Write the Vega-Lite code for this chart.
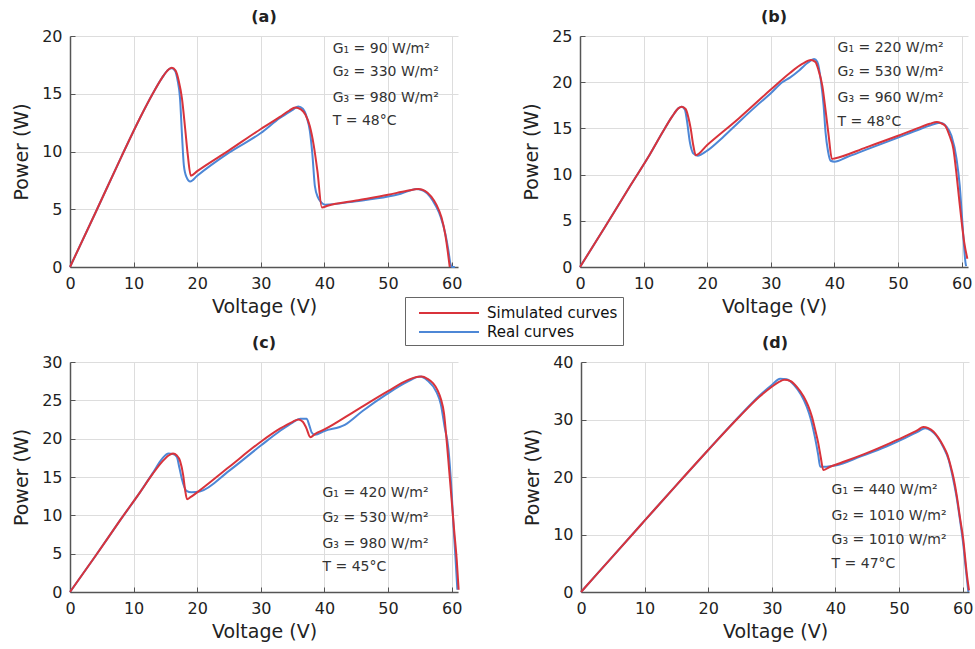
{
  "$schema": "https://vega.github.io/schema/vega-lite/v6.json",
  "background": "white",
  "padding": {"left": 12, "top": 9, "right": 5, "bottom": 5},
  "config": {
    "font": "DejaVu Sans",
    "view": {"stroke": null},
    "title": {"fontSize": 16, "fontWeight": "bold", "color": "#222", "offset": 3, "font": "DejaVu Sans"},
    "axis": {
      "labelFontSize": 16, "labelColor": "#222", "titleFontSize": 19, "titleFontWeight": "normal", "titleColor": "#222",
      "labelFont": "DejaVu Sans", "titleFont": "DejaVu Sans", "labelOverlap": false,
      "domainColor": "#555", "domainWidth": 1.5, "gridColor": "#dddddd", "gridWidth": 1,
      "tickColor": "#555", "tickSize": -5, "labelPadding": 13, "labelFlush": false
    },
    "axisX": {"titlePadding": 6},
    "axisY": {"titlePadding": 10},
    "legend": {
      "orient": "none", "legendX": 335, "legendY": 261, "title": null,
      "symbolType": "M-0.2,0H5.8", "symbolSize": 400, "symbolStrokeWidth": 2,
      "labelFontSize": 15, "labelFont": "DejaVu Sans", "labelColor": "#111", "strokeColor": "#666", "fillColor": "white",
      "padding": 5, "rowPadding": 0, "labelOffset": 55
    },
    "text": {"font": "DejaVu Sans"}
  },
  "datasets": {
    "curves": [
      {"panel":"a","series":"Simulated curves","v":0,"p":0},{"panel":"a","series":"Simulated curves","v":4,"p":4.7},{"panel":"a","series":"Simulated curves","v":8,"p":9.45},{"panel":"a","series":"Simulated curves","v":11,"p":12.9},{"panel":"a","series":"Simulated curves","v":13,"p":15.0},{"panel":"a","series":"Simulated curves","v":14.5,"p":16.4},{"panel":"a","series":"Simulated curves","v":15.5,"p":17.1},{"panel":"a","series":"Simulated curves","v":16,"p":17.25},{"panel":"a","series":"Simulated curves","v":16.6,"p":17.0},{"panel":"a","series":"Simulated curves","v":17.1,"p":16.1},{"panel":"a","series":"Simulated curves","v":17.6,"p":14.6},{"panel":"a","series":"Simulated curves","v":18.1,"p":12.0},{"panel":"a","series":"Simulated curves","v":18.5,"p":9.8},{"panel":"a","series":"Simulated curves","v":19.0,"p":7.9},{"panel":"a","series":"Simulated curves","v":20,"p":8.3},{"panel":"a","series":"Simulated curves","v":25,"p":10.1},{"panel":"a","series":"Simulated curves","v":30,"p":11.95},{"panel":"a","series":"Simulated curves","v":33,"p":13.0},{"panel":"a","series":"Simulated curves","v":34.5,"p":13.55},{"panel":"a","series":"Simulated curves","v":35.4,"p":13.8},{"panel":"a","series":"Simulated curves","v":36.3,"p":13.65},{"panel":"a","series":"Simulated curves","v":37.0,"p":13.2},{"panel":"a","series":"Simulated curves","v":37.7,"p":12.2},{"panel":"a","series":"Simulated curves","v":38.3,"p":10.6},{"panel":"a","series":"Simulated curves","v":38.9,"p":8.3},{"panel":"a","series":"Simulated curves","v":39.6,"p":5.15},{"panel":"a","series":"Simulated curves","v":40.5,"p":5.3},{"panel":"a","series":"Simulated curves","v":45,"p":5.75},{"panel":"a","series":"Simulated curves","v":50,"p":6.25},{"panel":"a","series":"Simulated curves","v":53,"p":6.6},{"panel":"a","series":"Simulated curves","v":54.8,"p":6.75},{"panel":"a","series":"Simulated curves","v":55.8,"p":6.6},{"panel":"a","series":"Simulated curves","v":56.8,"p":6.1},{"panel":"a","series":"Simulated curves","v":57.6,"p":5.4},{"panel":"a","series":"Simulated curves","v":58.4,"p":4.3},{"panel":"a","series":"Simulated curves","v":59.0,"p":2.8},{"panel":"a","series":"Simulated curves","v":59.4,"p":1.3},{"panel":"a","series":"Simulated curves","v":59.7,"p":0},
      {"panel":"a","series":"Real curves","v":0,"p":0},{"panel":"a","series":"Real curves","v":4,"p":4.7},{"panel":"a","series":"Real curves","v":8,"p":9.45},{"panel":"a","series":"Real curves","v":11,"p":12.9},{"panel":"a","series":"Real curves","v":13,"p":15.0},{"panel":"a","series":"Real curves","v":14.5,"p":16.4},{"panel":"a","series":"Real curves","v":15.5,"p":17.1},{"panel":"a","series":"Real curves","v":16,"p":17.2},{"panel":"a","series":"Real curves","v":16.5,"p":17.0},{"panel":"a","series":"Real curves","v":16.9,"p":16.2},{"panel":"a","series":"Real curves","v":17.3,"p":14.6},{"panel":"a","series":"Real curves","v":17.6,"p":11.5},{"panel":"a","series":"Real curves","v":17.9,"p":8.8},{"panel":"a","series":"Real curves","v":18.3,"p":7.8},{"panel":"a","series":"Real curves","v":18.9,"p":7.4},{"panel":"a","series":"Real curves","v":20,"p":7.9},{"panel":"a","series":"Real curves","v":25,"p":9.9},{"panel":"a","series":"Real curves","v":30,"p":11.6},{"panel":"a","series":"Real curves","v":33,"p":12.9},{"panel":"a","series":"Real curves","v":35,"p":13.6},{"panel":"a","series":"Real curves","v":35.9,"p":13.9},{"panel":"a","series":"Real curves","v":36.6,"p":13.7},{"panel":"a","series":"Real curves","v":37.2,"p":13.0},{"panel":"a","series":"Real curves","v":37.7,"p":11.8},{"panel":"a","series":"Real curves","v":38.1,"p":9.8},{"panel":"a","series":"Real curves","v":38.5,"p":7.0},{"panel":"a","series":"Real curves","v":39.0,"p":6.0},{"panel":"a","series":"Real curves","v":39.5,"p":5.6},{"panel":"a","series":"Real curves","v":40.1,"p":5.4},{"panel":"a","series":"Real curves","v":45,"p":5.7},{"panel":"a","series":"Real curves","v":50,"p":6.1},{"panel":"a","series":"Real curves","v":52,"p":6.35},{"panel":"a","series":"Real curves","v":54.5,"p":6.75},{"panel":"a","series":"Real curves","v":55.6,"p":6.6},{"panel":"a","series":"Real curves","v":56.6,"p":6.1},{"panel":"a","series":"Real curves","v":57.5,"p":5.3},{"panel":"a","series":"Real curves","v":58.3,"p":4.3},{"panel":"a","series":"Real curves","v":59.0,"p":2.9},{"panel":"a","series":"Real curves","v":59.5,"p":1.4},{"panel":"a","series":"Real curves","v":59.8,"p":0.3},{"panel":"a","series":"Real curves","v":60.1,"p":0},{"panel":"a","series":"Real curves","v":60.5,"p":0},
      {"panel":"b","series":"Simulated curves","v":0,"p":0},{"panel":"b","series":"Simulated curves","v":4,"p":4.4},{"panel":"b","series":"Simulated curves","v":8,"p":8.9},{"panel":"b","series":"Simulated curves","v":11,"p":12.2},{"panel":"b","series":"Simulated curves","v":13,"p":14.6},{"panel":"b","series":"Simulated curves","v":14.5,"p":16.3},{"panel":"b","series":"Simulated curves","v":15.5,"p":17.2},{"panel":"b","series":"Simulated curves","v":16,"p":17.35},{"panel":"b","series":"Simulated curves","v":16.6,"p":17.1},{"panel":"b","series":"Simulated curves","v":17.0,"p":16.3},{"panel":"b","series":"Simulated curves","v":17.4,"p":15.0},{"panel":"b","series":"Simulated curves","v":17.8,"p":13.2},{"panel":"b","series":"Simulated curves","v":18.2,"p":12.1},{"panel":"b","series":"Simulated curves","v":20,"p":13.2},{"panel":"b","series":"Simulated curves","v":25,"p":16.1},{"panel":"b","series":"Simulated curves","v":30,"p":19.2},{"panel":"b","series":"Simulated curves","v":33,"p":21.0},{"panel":"b","series":"Simulated curves","v":35,"p":22.0},{"panel":"b","series":"Simulated curves","v":36.3,"p":22.4},{"panel":"b","series":"Simulated curves","v":37.0,"p":22.2},{"panel":"b","series":"Simulated curves","v":37.5,"p":21.3},{"panel":"b","series":"Simulated curves","v":38.1,"p":19.6},{"panel":"b","series":"Simulated curves","v":38.6,"p":17.0},{"panel":"b","series":"Simulated curves","v":39.1,"p":14.2},{"panel":"b","series":"Simulated curves","v":39.6,"p":11.7},{"panel":"b","series":"Simulated curves","v":40,"p":11.75},{"panel":"b","series":"Simulated curves","v":45,"p":12.95},{"panel":"b","series":"Simulated curves","v":50,"p":14.2},{"panel":"b","series":"Simulated curves","v":53,"p":15.0},{"panel":"b","series":"Simulated curves","v":55,"p":15.5},{"panel":"b","series":"Simulated curves","v":56.1,"p":15.7},{"panel":"b","series":"Simulated curves","v":56.8,"p":15.55},{"panel":"b","series":"Simulated curves","v":57.4,"p":15.3},{"panel":"b","series":"Simulated curves","v":58.1,"p":14.2},{"panel":"b","series":"Simulated curves","v":58.7,"p":12.8},{"panel":"b","series":"Simulated curves","v":59.2,"p":10.0},{"panel":"b","series":"Simulated curves","v":59.6,"p":7.4},{"panel":"b","series":"Simulated curves","v":60.0,"p":4.9},{"panel":"b","series":"Simulated curves","v":60.4,"p":2.7},{"panel":"b","series":"Simulated curves","v":60.9,"p":0.9},
      {"panel":"b","series":"Real curves","v":0,"p":0},{"panel":"b","series":"Real curves","v":4,"p":4.4},{"panel":"b","series":"Real curves","v":8,"p":8.9},{"panel":"b","series":"Real curves","v":11,"p":12.2},{"panel":"b","series":"Real curves","v":13,"p":14.6},{"panel":"b","series":"Real curves","v":14.5,"p":16.3},{"panel":"b","series":"Real curves","v":15.5,"p":17.2},{"panel":"b","series":"Real curves","v":16,"p":17.35},{"panel":"b","series":"Real curves","v":16.5,"p":17.0},{"panel":"b","series":"Real curves","v":16.8,"p":15.9},{"panel":"b","series":"Real curves","v":17.3,"p":13.4},{"panel":"b","series":"Real curves","v":17.8,"p":12.3},{"panel":"b","series":"Real curves","v":18.5,"p":12.05},{"panel":"b","series":"Real curves","v":20,"p":12.6},{"panel":"b","series":"Real curves","v":22.4,"p":14.0},{"panel":"b","series":"Real curves","v":25,"p":15.7},{"panel":"b","series":"Real curves","v":28,"p":17.6},{"panel":"b","series":"Real curves","v":30,"p":18.8},{"panel":"b","series":"Real curves","v":31.8,"p":20.0},{"panel":"b","series":"Real curves","v":33,"p":20.5},{"panel":"b","series":"Real curves","v":34.5,"p":21.3},{"panel":"b","series":"Real curves","v":35.8,"p":22.1},{"panel":"b","series":"Real curves","v":36.8,"p":22.5},{"panel":"b","series":"Real curves","v":37.3,"p":22.2},{"panel":"b","series":"Real curves","v":37.9,"p":20.0},{"panel":"b","series":"Real curves","v":38.3,"p":17.5},{"panel":"b","series":"Real curves","v":38.6,"p":14.6},{"panel":"b","series":"Real curves","v":39.0,"p":12.5},{"panel":"b","series":"Real curves","v":39.4,"p":11.5},{"panel":"b","series":"Real curves","v":40,"p":11.4},{"panel":"b","series":"Real curves","v":42,"p":11.9},{"panel":"b","series":"Real curves","v":45,"p":12.7},{"panel":"b","series":"Real curves","v":50,"p":14.0},{"panel":"b","series":"Real curves","v":53,"p":14.8},{"panel":"b","series":"Real curves","v":55,"p":15.3},{"panel":"b","series":"Real curves","v":56.6,"p":15.6},{"panel":"b","series":"Real curves","v":57.6,"p":15.2},{"panel":"b","series":"Real curves","v":58.4,"p":14.2},{"panel":"b","series":"Real curves","v":59.2,"p":11.7},{"panel":"b","series":"Real curves","v":59.7,"p":8.8},{"panel":"b","series":"Real curves","v":60.0,"p":6.0},{"panel":"b","series":"Real curves","v":60.3,"p":3.0},{"panel":"b","series":"Real curves","v":60.6,"p":0.5},{"panel":"b","series":"Real curves","v":60.7,"p":0.1},
      {"panel":"c","series":"Simulated curves","v":0,"p":0},{"panel":"c","series":"Simulated curves","v":4,"p":4.7},{"panel":"c","series":"Simulated curves","v":8,"p":9.5},{"panel":"c","series":"Simulated curves","v":11,"p":13.0},{"panel":"c","series":"Simulated curves","v":13,"p":15.4},{"panel":"c","series":"Simulated curves","v":14.5,"p":17.0},{"panel":"c","series":"Simulated curves","v":15.5,"p":17.8},{"panel":"c","series":"Simulated curves","v":16.2,"p":18.05},{"panel":"c","series":"Simulated curves","v":16.8,"p":17.8},{"panel":"c","series":"Simulated curves","v":17.3,"p":17.1},{"panel":"c","series":"Simulated curves","v":17.8,"p":15.2},{"panel":"c","series":"Simulated curves","v":18.1,"p":13.3},{"panel":"c","series":"Simulated curves","v":18.4,"p":12.1},{"panel":"c","series":"Simulated curves","v":19,"p":12.4},{"panel":"c","series":"Simulated curves","v":20,"p":13.0},{"panel":"c","series":"Simulated curves","v":25,"p":16.3},{"panel":"c","series":"Simulated curves","v":30,"p":19.6},{"panel":"c","series":"Simulated curves","v":33,"p":21.3},{"panel":"c","series":"Simulated curves","v":35,"p":22.2},{"panel":"c","series":"Simulated curves","v":35.9,"p":22.5},{"panel":"c","series":"Simulated curves","v":36.6,"p":22.2},{"panel":"c","series":"Simulated curves","v":37.1,"p":21.5},{"panel":"c","series":"Simulated curves","v":37.8,"p":20.2},{"panel":"c","series":"Simulated curves","v":38.5,"p":20.6},{"panel":"c","series":"Simulated curves","v":40,"p":21.2},{"panel":"c","series":"Simulated curves","v":45,"p":23.7},{"panel":"c","series":"Simulated curves","v":50,"p":26.2},{"panel":"c","series":"Simulated curves","v":53,"p":27.6},{"panel":"c","series":"Simulated curves","v":54.5,"p":28.05},{"panel":"c","series":"Simulated curves","v":55.3,"p":28.1},{"panel":"c","series":"Simulated curves","v":56.2,"p":27.8},{"panel":"c","series":"Simulated curves","v":57.1,"p":27.2},{"panel":"c","series":"Simulated curves","v":57.8,"p":26.3},{"panel":"c","series":"Simulated curves","v":58.3,"p":25.2},{"panel":"c","series":"Simulated curves","v":58.8,"p":23.3},{"panel":"c","series":"Simulated curves","v":59.2,"p":19.9},{"panel":"c","series":"Simulated curves","v":59.6,"p":16.0},{"panel":"c","series":"Simulated curves","v":60.0,"p":12.0},{"panel":"c","series":"Simulated curves","v":60.4,"p":8.0},{"panel":"c","series":"Simulated curves","v":60.8,"p":4.2},{"panel":"c","series":"Simulated curves","v":61.1,"p":0.3},
      {"panel":"c","series":"Real curves","v":0,"p":0},{"panel":"c","series":"Real curves","v":4,"p":4.7},{"panel":"c","series":"Real curves","v":8,"p":9.5},{"panel":"c","series":"Real curves","v":11,"p":13.0},{"panel":"c","series":"Real curves","v":13,"p":15.5},{"panel":"c","series":"Real curves","v":14.5,"p":17.4},{"panel":"c","series":"Real curves","v":15.5,"p":18.05},{"panel":"c","series":"Real curves","v":16.2,"p":18.0},{"panel":"c","series":"Real curves","v":16.8,"p":17.6},{"panel":"c","series":"Real curves","v":17.2,"p":16.2},{"panel":"c","series":"Real curves","v":17.6,"p":14.7},{"panel":"c","series":"Real curves","v":18.3,"p":13.2},{"panel":"c","series":"Real curves","v":19.1,"p":13.0},{"panel":"c","series":"Real curves","v":20.4,"p":13.1},{"panel":"c","series":"Real curves","v":25,"p":15.8},{"panel":"c","series":"Real curves","v":30,"p":19.1},{"panel":"c","series":"Real curves","v":33,"p":21.0},{"panel":"c","series":"Real curves","v":35,"p":22.1},{"panel":"c","series":"Real curves","v":36.2,"p":22.6},{"panel":"c","series":"Real curves","v":37.2,"p":22.6},{"panel":"c","series":"Real curves","v":37.6,"p":21.8},{"panel":"c","series":"Real curves","v":38.0,"p":20.8},{"panel":"c","series":"Real curves","v":38.5,"p":20.5},{"panel":"c","series":"Real curves","v":40,"p":21.0},{"panel":"c","series":"Real curves","v":43.2,"p":21.8},{"panel":"c","series":"Real curves","v":46,"p":23.6},{"panel":"c","series":"Real curves","v":49.8,"p":25.8},{"panel":"c","series":"Real curves","v":53,"p":27.4},{"panel":"c","series":"Real curves","v":55.0,"p":28.1},{"panel":"c","series":"Real curves","v":56.2,"p":27.6},{"panel":"c","series":"Real curves","v":57.6,"p":26.1},{"panel":"c","series":"Real curves","v":58.3,"p":24.5},{"panel":"c","series":"Real curves","v":58.9,"p":21.5},{"panel":"c","series":"Real curves","v":59.5,"p":18.6},{"panel":"c","series":"Real curves","v":60.0,"p":13.0},{"panel":"c","series":"Real curves","v":60.3,"p":8.5},{"panel":"c","series":"Real curves","v":60.6,"p":4.5},{"panel":"c","series":"Real curves","v":60.9,"p":0.3},
      {"panel":"d","series":"Simulated curves","v":0,"p":0},{"panel":"d","series":"Simulated curves","v":5,"p":6.2},{"panel":"d","series":"Simulated curves","v":10,"p":12.4},{"panel":"d","series":"Simulated curves","v":15,"p":18.6},{"panel":"d","series":"Simulated curves","v":20,"p":24.7},{"panel":"d","series":"Simulated curves","v":25,"p":30.6},{"panel":"d","series":"Simulated curves","v":28,"p":33.9},{"panel":"d","series":"Simulated curves","v":30,"p":35.7},{"panel":"d","series":"Simulated curves","v":31.2,"p":36.6},{"panel":"d","series":"Simulated curves","v":32,"p":36.9},{"panel":"d","series":"Simulated curves","v":32.9,"p":36.7},{"panel":"d","series":"Simulated curves","v":34,"p":35.6},{"panel":"d","series":"Simulated curves","v":35,"p":34.0},{"panel":"d","series":"Simulated curves","v":35.7,"p":32.4},{"panel":"d","series":"Simulated curves","v":36.3,"p":30.5},{"panel":"d","series":"Simulated curves","v":36.8,"p":28.3},{"panel":"d","series":"Simulated curves","v":37.3,"p":25.9},{"panel":"d","series":"Simulated curves","v":37.7,"p":23.4},{"panel":"d","series":"Simulated curves","v":38.1,"p":21.2},{"panel":"d","series":"Simulated curves","v":39,"p":21.7},{"panel":"d","series":"Simulated curves","v":40.7,"p":22.4},{"panel":"d","series":"Simulated curves","v":45,"p":24.2},{"panel":"d","series":"Simulated curves","v":48.6,"p":25.9},{"panel":"d","series":"Simulated curves","v":51,"p":27.1},{"panel":"d","series":"Simulated curves","v":53,"p":28.2},{"panel":"d","series":"Simulated curves","v":53.8,"p":28.7},{"panel":"d","series":"Simulated curves","v":54.6,"p":28.5},{"panel":"d","series":"Simulated curves","v":55.4,"p":27.9},{"panel":"d","series":"Simulated curves","v":56.2,"p":26.8},{"panel":"d","series":"Simulated curves","v":57,"p":25.3},{"panel":"d","series":"Simulated curves","v":57.6,"p":23.9},{"panel":"d","series":"Simulated curves","v":58,"p":22.4},{"panel":"d","series":"Simulated curves","v":58.6,"p":19.7},{"panel":"d","series":"Simulated curves","v":59.1,"p":16.6},{"panel":"d","series":"Simulated curves","v":59.6,"p":12.8},{"panel":"d","series":"Simulated curves","v":60.1,"p":9.1},{"panel":"d","series":"Simulated curves","v":60.4,"p":5.9},{"panel":"d","series":"Simulated curves","v":60.7,"p":2.7},{"panel":"d","series":"Simulated curves","v":61,"p":0.3},
      {"panel":"d","series":"Real curves","v":0,"p":0},{"panel":"d","series":"Real curves","v":5,"p":6.2},{"panel":"d","series":"Real curves","v":10,"p":12.4},{"panel":"d","series":"Real curves","v":15,"p":18.6},{"panel":"d","series":"Real curves","v":20,"p":24.7},{"panel":"d","series":"Real curves","v":25,"p":30.7},{"panel":"d","series":"Real curves","v":28,"p":34.1},{"panel":"d","series":"Real curves","v":30,"p":36.0},{"panel":"d","series":"Real curves","v":31.3,"p":37.1},{"panel":"d","series":"Real curves","v":32.3,"p":37.0},{"panel":"d","series":"Real curves","v":33.5,"p":36.0},{"panel":"d","series":"Real curves","v":34.6,"p":34.3},{"panel":"d","series":"Real curves","v":35.5,"p":32.2},{"panel":"d","series":"Real curves","v":36.2,"p":29.8},{"panel":"d","series":"Real curves","v":36.8,"p":26.8},{"panel":"d","series":"Real curves","v":37.3,"p":23.8},{"panel":"d","series":"Real curves","v":37.6,"p":21.8},{"panel":"d","series":"Real curves","v":38.6,"p":21.8},{"panel":"d","series":"Real curves","v":40,"p":22.0},{"panel":"d","series":"Real curves","v":44,"p":23.6},{"panel":"d","series":"Real curves","v":48,"p":25.3},{"panel":"d","series":"Real curves","v":51,"p":26.8},{"panel":"d","series":"Real curves","v":53,"p":27.9},{"panel":"d","series":"Real curves","v":54.1,"p":28.5},{"panel":"d","series":"Real curves","v":55,"p":28.1},{"panel":"d","series":"Real curves","v":56,"p":27.0},{"panel":"d","series":"Real curves","v":57,"p":25.1},{"panel":"d","series":"Real curves","v":57.8,"p":23.0},{"panel":"d","series":"Real curves","v":58.4,"p":20.2},{"panel":"d","series":"Real curves","v":59,"p":16.8},{"panel":"d","series":"Real curves","v":59.6,"p":12.4},{"panel":"d","series":"Real curves","v":60.1,"p":8.3},{"panel":"d","series":"Real curves","v":60.5,"p":4.0},{"panel":"d","series":"Real curves","v":60.9,"p":0}
    ],
    "notes": [
      {"panel":"a","v":41.3,"p":18.9,"label":"G₁ = 90 W/m²"},{"panel":"a","v":41.3,"p":16.9,"label":"G₂ = 330 W/m²"},{"panel":"a","v":41.3,"p":14.6,"label":"G₃ = 980 W/m²"},{"panel":"a","v":41.3,"p":12.6,"label":"T = 48°C"},
      {"panel":"b","v":40.5,"p":23.7,"label":"G₁ = 220 W/m²"},{"panel":"b","v":40.5,"p":21.1,"label":"G₂ = 530 W/m²"},{"panel":"b","v":40.5,"p":18.3,"label":"G₃ = 960 W/m²"},{"panel":"b","v":40.5,"p":15.7,"label":"T = 48°C"},
      {"panel":"c","v":39.7,"p":12.9,"label":"G₁ = 420 W/m²"},{"panel":"c","v":39.7,"p":9.6,"label":"G₂ = 530 W/m²"},{"panel":"c","v":39.7,"p":6.3,"label":"G₃ = 980 W/m²"},{"panel":"c","v":39.7,"p":3.3,"label":"T = 45°C"},
      {"panel":"d","v":39.4,"p":17.7,"label":"G₁ = 440 W/m²"},{"panel":"d","v":39.4,"p":13.2,"label":"G₂ = 1010 W/m²"},{"panel":"d","v":39.4,"p":9.0,"label":"G₃ = 1010 W/m²"},{"panel":"d","v":39.4,"p":4.9,"label":"T = 47°C"}
    ]
  },
  "spacing": 19,
  "vconcat": [
    {
      "spacing": 60,
      "hconcat": [
        {
          "width": 388, "height": 231, "title": "(a)",
          "layer": [
            {"data": {"name": "curves"}, "transform": [{"filter": "datum.panel === 'a' && datum.series === 'Real curves'"}],
             "mark": {"type": "line", "interpolate": "monotone", "strokeWidth": 2},
             "encoding": {"x": {"field": "v", "type": "quantitative", "scale": {"domain": [0, 61], "nice": false}, "axis": {"values": [0,10,20,30,40,50,60], "tickCount": 20, "title": "Voltage (V)"}},
                          "y": {"field": "p", "type": "quantitative", "scale": {"domain": [0, 20], "nice": false}, "axis": {"values": [0,5,10,15,20], "tickCount": 20, "title": "Power (W)"}},
                          "color": {"field": "series", "type": "nominal", "scale": {"domain": ["Simulated curves", "Real curves"], "range": ["#d9333b", "#4d87d6"]}}}},
            {"data": {"name": "curves"}, "transform": [{"filter": "datum.panel === 'a' && datum.series === 'Simulated curves'"}],
             "mark": {"type": "line", "interpolate": "monotone", "strokeWidth": 2},
             "encoding": {"x": {"field": "v", "type": "quantitative"}, "y": {"field": "p", "type": "quantitative"}, "color": {"field": "series", "type": "nominal"}}},
            {"data": {"name": "notes"}, "transform": [{"filter": "datum.panel === 'a'"}],
             "mark": {"type": "text", "align": "left", "baseline": "middle", "fontSize": 14, "color": "#333"},
             "encoding": {"x": {"field": "v", "type": "quantitative"}, "y": {"field": "p", "type": "quantitative"}, "text": {"field": "label"}}}
          ]
        },
        {
          "width": 388, "height": 231, "title": "(b)",
          "layer": [
            {"data": {"name": "curves"}, "transform": [{"filter": "datum.panel === 'b' && datum.series === 'Real curves'"}],
             "mark": {"type": "line", "interpolate": "monotone", "strokeWidth": 2},
             "encoding": {"x": {"field": "v", "type": "quantitative", "scale": {"domain": [0, 61], "nice": false}, "axis": {"values": [0,10,20,30,40,50,60], "tickCount": 20, "title": "Voltage (V)"}},
                          "y": {"field": "p", "type": "quantitative", "scale": {"domain": [0, 25], "nice": false}, "axis": {"values": [0,5,10,15,20,25], "tickCount": 20, "title": "Power (W)"}},
                          "color": {"field": "series", "type": "nominal"}}},
            {"data": {"name": "curves"}, "transform": [{"filter": "datum.panel === 'b' && datum.series === 'Simulated curves'"}],
             "mark": {"type": "line", "interpolate": "monotone", "strokeWidth": 2},
             "encoding": {"x": {"field": "v", "type": "quantitative"}, "y": {"field": "p", "type": "quantitative"}, "color": {"field": "series", "type": "nominal"}}},
            {"data": {"name": "notes"}, "transform": [{"filter": "datum.panel === 'b'"}],
             "mark": {"type": "text", "align": "left", "baseline": "middle", "fontSize": 14, "color": "#333"},
             "encoding": {"x": {"field": "v", "type": "quantitative"}, "y": {"field": "p", "type": "quantitative"}, "text": {"field": "label"}}}
          ]
        }
      ]
    },
    {
      "spacing": 60,
      "hconcat": [
        {
          "width": 388, "height": 230, "title": "(c)",
          "layer": [
            {"data": {"name": "curves"}, "transform": [{"filter": "datum.panel === 'c' && datum.series === 'Real curves'"}],
             "mark": {"type": "line", "interpolate": "monotone", "strokeWidth": 2},
             "encoding": {"x": {"field": "v", "type": "quantitative", "scale": {"domain": [0, 61], "nice": false}, "axis": {"values": [0,10,20,30,40,50,60], "tickCount": 20, "title": "Voltage (V)"}},
                          "y": {"field": "p", "type": "quantitative", "scale": {"domain": [0, 30], "nice": false}, "axis": {"values": [0,5,10,15,20,25,30], "tickCount": 20, "title": "Power (W)"}},
                          "color": {"field": "series", "type": "nominal"}}},
            {"data": {"name": "curves"}, "transform": [{"filter": "datum.panel === 'c' && datum.series === 'Simulated curves'"}],
             "mark": {"type": "line", "interpolate": "monotone", "strokeWidth": 2},
             "encoding": {"x": {"field": "v", "type": "quantitative"}, "y": {"field": "p", "type": "quantitative"}, "color": {"field": "series", "type": "nominal"}}},
            {"data": {"name": "notes"}, "transform": [{"filter": "datum.panel === 'c'"}],
             "mark": {"type": "text", "align": "left", "baseline": "middle", "fontSize": 14, "color": "#333"},
             "encoding": {"x": {"field": "v", "type": "quantitative"}, "y": {"field": "p", "type": "quantitative"}, "text": {"field": "label"}}}
          ]
        },
        {
          "width": 388, "height": 230, "title": "(d)",
          "layer": [
            {"data": {"name": "curves"}, "transform": [{"filter": "datum.panel === 'd' && datum.series === 'Real curves'"}],
             "mark": {"type": "line", "interpolate": "monotone", "strokeWidth": 2},
             "encoding": {"x": {"field": "v", "type": "quantitative", "scale": {"domain": [0, 61], "nice": false}, "axis": {"values": [0,10,20,30,40,50,60], "tickCount": 20, "title": "Voltage (V)"}},
                          "y": {"field": "p", "type": "quantitative", "scale": {"domain": [0, 40], "nice": false}, "axis": {"values": [0,10,20,30,40], "tickCount": 20, "title": "Power (W)"}},
                          "color": {"field": "series", "type": "nominal"}}},
            {"data": {"name": "curves"}, "transform": [{"filter": "datum.panel === 'd' && datum.series === 'Simulated curves'"}],
             "mark": {"type": "line", "interpolate": "monotone", "strokeWidth": 2},
             "encoding": {"x": {"field": "v", "type": "quantitative"}, "y": {"field": "p", "type": "quantitative"}, "color": {"field": "series", "type": "nominal"}}},
            {"data": {"name": "notes"}, "transform": [{"filter": "datum.panel === 'd'"}],
             "mark": {"type": "text", "align": "left", "baseline": "middle", "fontSize": 14, "color": "#333"},
             "encoding": {"x": {"field": "v", "type": "quantitative"}, "y": {"field": "p", "type": "quantitative"}, "text": {"field": "label"}}}
          ]
        }
      ]
    }
  ]
}
